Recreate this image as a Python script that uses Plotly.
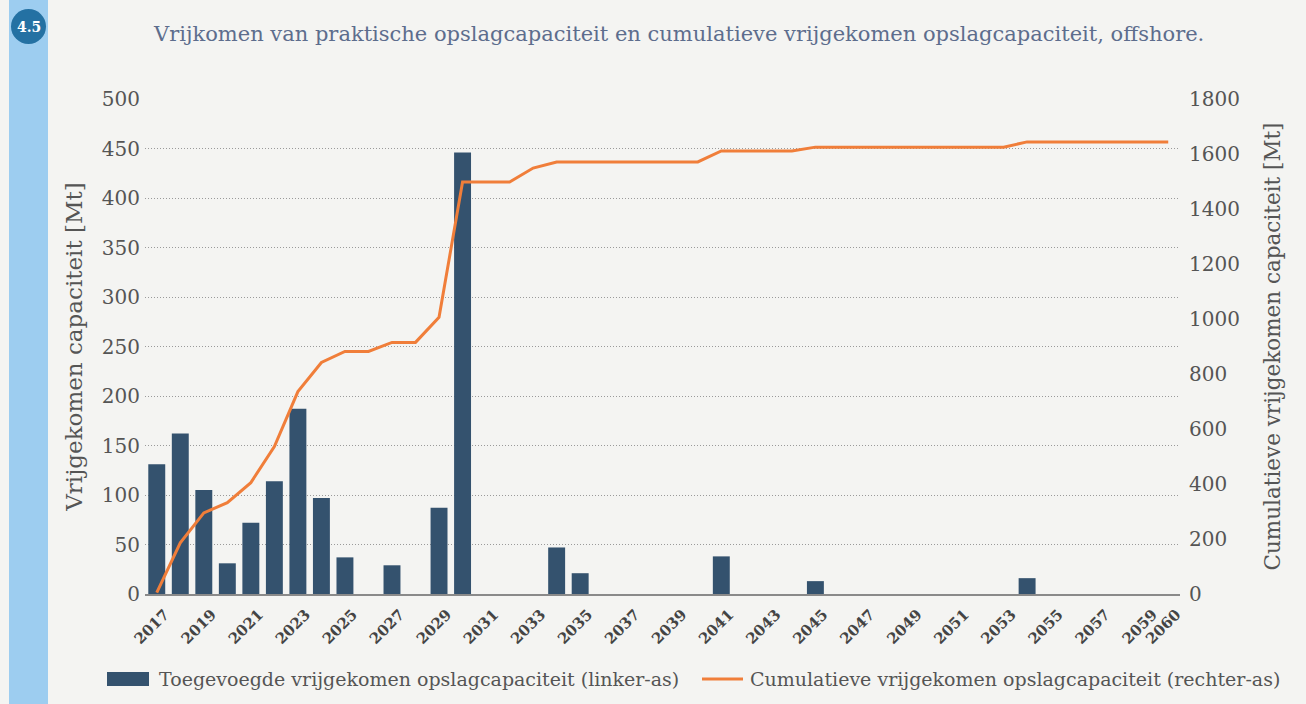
import plotly.graph_objects as go

years = [str(y) for y in range(2017, 2061)]
added = [131, 162, 105, 31, 72, 114, 187, 97, 37, 0, 29, 0, 87, 446, 0, 0, 0, 47, 21, 0,
         0, 0, 0, 0, 38, 0, 0, 0, 13, 0, 0, 0, 0, 0, 0, 0, 0, 16, 0, 0, 0, 0, 0, 0]
cumulative = [5, 186, 295, 332, 405, 536, 736, 842, 882, 882, 915, 915, 1006, 1498, 1498, 1498,
              1549, 1571, 1571, 1571, 1571, 1571, 1571, 1571, 1611, 1611, 1611, 1611, 1625, 1625,
              1625, 1625, 1625, 1625, 1625, 1625, 1625, 1644, 1644, 1644, 1644, 1644, 1644, 1644]
tick_years = [str(y) for y in range(2017, 2060, 2)] + ["2060"]

title_text = "Vrijkomen van praktische opslagcapaciteit en cumulatieve vrijgekomen opslagcapaciteit, offshore."
left_title = "Vrijgekomen capaciteit [Mt]"
right_title = "Cumulatieve vrijgekomen capaciteit [Mt]"
bar_name = "Toegevoegde vrijgekomen opslagcapaciteit (linker-as)"
line_name = "Cumulatieve vrijgekomen opslagcapaciteit (rechter-as)"

FONT = "DejaVu Serif"
BAR_COLOR = "#34526E"
LINE_COLOR = "#F07E3A"
W, H = 1306, 704
L, R, T, B = 145, 126, 99, 110
pw, ph = W - L - R, H - T - B

def px(x):
    return (x - L) / pw

def py(y):
    return (H - B - y) / ph

fig = go.Figure()
fig.add_trace(go.Bar(x=years, y=added, name=bar_name, marker_color=BAR_COLOR,
                     marker_line_width=0, yaxis="y"))
fig.add_trace(go.Scatter(x=years, y=cumulative, name=line_name, mode="lines",
                         line=dict(color=LINE_COLOR, width=3), yaxis="y2"))

fig.update_layout(
    width=W, height=H,
    margin=dict(l=L, r=R, t=T, b=B),
    paper_bgcolor="#F4F4F2", plot_bgcolor="#F4F4F2",
    font=dict(family=FONT, color="#555555"),
    bargap=0.28,
    showlegend=False,
    xaxis=dict(type="category", tickmode="array", tickvals=tick_years, ticktext=tick_years,
               tickangle=-45, tickfont=dict(size=15, color="#444444", family=FONT, weight="bold"),
               showline=True, linecolor="#8a8a8a", linewidth=1.5, showgrid=False, ticks="",
               ticklabelshift=8, ticklabelstandoff=4,
               range=[-0.5, len(years) - 0.5]),
    yaxis=dict(range=[0, 500], dtick=50, showgrid=True, gridcolor="#9a9a9a", griddash="1px,2px",
               gridwidth=1, zeroline=False, tickfont=dict(size=20, color="#555555"),
               title=dict(text=left_title, font=dict(size=23, color="#555555"), standoff=12),
               ticks="", ticklabelstandoff=4),
    yaxis2=dict(range=[0, 1800], dtick=200, overlaying="y", side="right", showgrid=False,
                zeroline=False, tickfont=dict(size=20, color="#555555"),
                title=dict(text=right_title, font=dict(size=21.5, color="#555555"), standoff=26),
                ticks="", ticklabelstandoff=8),
)

# left blue band and badge
fig.add_shape(type="rect", xref="paper", yref="paper", x0=px(9), x1=px(48), y0=py(H), y1=py(0),
              fillcolor="#9DCDF0", line_width=0, layer="below")
fig.add_shape(type="circle", xref="paper", yref="paper", x0=px(11), x1=px(46), y0=py(44), y1=py(9),
              fillcolor="#2471A3", line_width=0)
fig.add_annotation(text="<b>4.5</b>", xref="paper", yref="paper", x=px(28.5), y=py(26.5),
                   showarrow=False, font=dict(size=14, color="white", family=FONT),
                   xanchor="center", yanchor="middle")
fig.add_annotation(text=title_text, xref="paper", yref="paper", x=px(678), y=py(34),
                   showarrow=False, font=dict(size=21, color="#5D6D8D", family=FONT),
                   xanchor="center", yanchor="middle")

# legend (drawn manually to get the wide bar swatch)
fig.add_shape(type="rect", xref="paper", yref="paper", x0=px(107), x1=px(149), y0=py(686), y1=py(672),
              fillcolor=BAR_COLOR, line_width=0)
fig.add_annotation(text=bar_name, xref="paper", yref="paper", x=px(157), y=py(679),
                   showarrow=False, font=dict(size=19, color="#555555", family=FONT),
                   xanchor="left", yanchor="middle")
fig.add_shape(type="line", xref="paper", yref="paper", x0=px(702), x1=px(743), y0=py(679), y1=py(679),
              line=dict(color=LINE_COLOR, width=3))
fig.add_annotation(text=line_name, xref="paper", yref="paper", x=px(748), y=py(679),
                   showarrow=False, font=dict(size=19, color="#555555", family=FONT),
                   xanchor="left", yanchor="middle")

fig.write_html("out.html", config={"displayModeBar": False},
               post_script="document.body.style.margin='0px';")
